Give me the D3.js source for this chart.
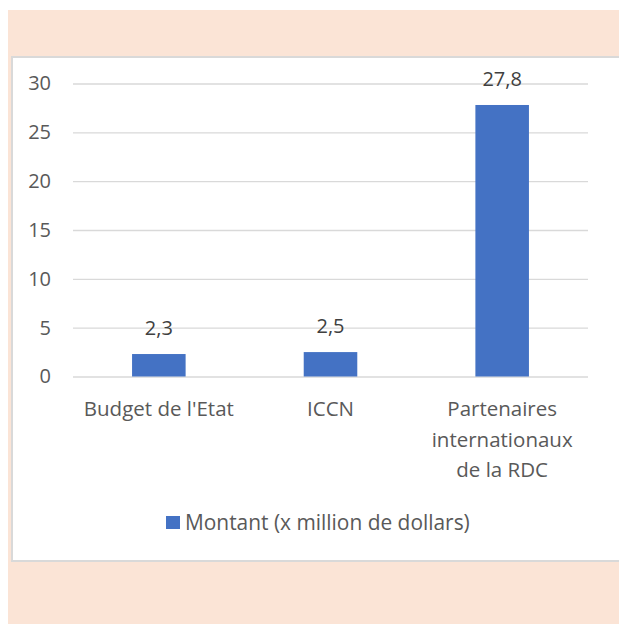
<!DOCTYPE html>
<html>
<head>
<meta charset="utf-8">
<script src="https://cdn.jsdelivr.net/npm/d3@7"></script>
<style>
  html, body { margin: 0; padding: 0; background: #ffffff; }
  svg { display: block; }
  text { font-family: "Open Sans", "Noto Sans", sans-serif; }
</style>
</head>
<body>
<svg id="chart" width="619" height="624"></svg>
<script>
// Funding sources and amounts (million dollars)
const categories = [["Budget de l'Etat"], ["ICCN"], ["Partenaires", "internationaux", "de la RDC"]];
const categoryKeys = ["Budget de l'Etat", "ICCN", "Partenaires internationaux de la RDC"];
const values = [2.3, 2.5, 27.8];
const valueLabels = ["2,3", "2,5", "27,8"];
const yTicks = [0, 5, 10, 15, 20, 25, 30];
const seriesName = "Montant (x million de dollars)";

const svg = d3.select("#chart");
const W = 619, H = 624;

// Page background and chart frame
svg.append("rect").attr("x", 0).attr("y", 0).attr("width", W).attr("height", H).attr("fill", "#ffffff");
svg.append("rect").attr("x", 8).attr("y", 10).attr("width", W - 8).attr("height", H - 10).attr("fill", "#FBE4D6");
svg.append("rect").attr("x", 12).attr("y", 57).attr("width", 700).attr("height", 504)
  .attr("fill", "#ffffff").attr("stroke", "#d9d9d9").attr("stroke-width", 2);

const y = d3.scaleLinear().domain([0, 30]).range([376.5, 83.5]);
const x = d3.scaleBand().domain(categoryKeys).range([73, 588]).paddingInner(0.688).paddingOuter(0.344);

// Horizontal gridlines
const yAxis = d3.axisLeft(y).tickValues(yTicks).tickSize(-(588 - 73)).tickPadding(22)
  .tickFormat(d3.format("d"));
const gy = svg.append("g").attr("transform", "translate(73,0)").call(yAxis);
gy.select(".domain").remove();
gy.selectAll(".tick line").attr("stroke", "#d9d9d9").attr("stroke-width", 1.3);
gy.selectAll(".tick text").attr("fill", "#595959").attr("font-size", 20)
  .attr("font-family", "'Open Sans', sans-serif");

// Bars
svg.append("g").selectAll("rect").data(values).join("rect")
  .attr("x", (d, i) => x(categoryKeys[i]))
  .attr("y", d => y(d))
  .attr("width", x.bandwidth())
  .attr("height", d => y(0) - y(d))
  .attr("fill", "#4472C4");

// Value labels
svg.append("g").selectAll("text").data(values).join("text")
  .attr("x", (d, i) => x(categoryKeys[i]) + x.bandwidth() / 2)
  .attr("y", d => y(d) - 19)
  .attr("text-anchor", "middle")
  .attr("font-size", 20)
  .attr("fill", "#404040")
  .text((d, i) => valueLabels[i]);

// Category labels (multi-line)
const cat = svg.append("g").selectAll("text").data(categories).join("text")
  .attr("text-anchor", "middle")
  .attr("font-size", 20.5)
  .attr("fill", "#595959");
cat.each(function(lines, i) {
  const cx = x(categoryKeys[i]) + x.bandwidth() / 2;
  d3.select(this).selectAll("tspan").data(lines).join("tspan")
    .attr("x", cx)
    .attr("y", (l, j) => 416 + j * 30.5)
    .text(l => l);
});

// Legend
svg.append("rect").attr("x", 166).attr("y", 516).attr("width", 14).attr("height", 13).attr("fill", "#4472C4");
svg.append("text").attr("x", 185).attr("y", 530).attr("font-size", 20.9).attr("fill", "#595959").text(seriesName);
</script>
</body>
</html>
